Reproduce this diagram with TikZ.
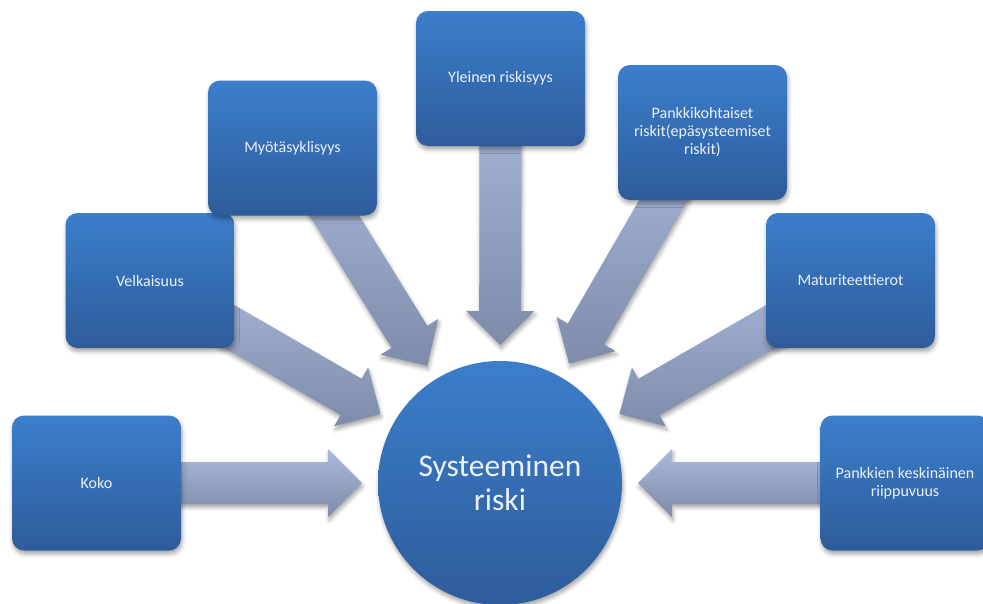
\documentclass[tikz,border=0pt]{standalone}
\usepackage{fontspec}
\setmainfont{Carlito}
\usetikzlibrary{calc,shadows.blur}
\definecolor{boxtop}{RGB}{59,126,203}
\definecolor{boxbot}{RGB}{46,92,155}
\definecolor{arrtop}{RGB}{170,186,219}
\definecolor{arrbot}{RGB}{126,139,170}
\definecolor{txt}{RGB}{236,241,249}
\pgfdeclarelayer{bg}
\pgfsetlayers{bg,main}
\newcommand\sysarrow[1]{%
  \coordinate (T) at ($(c.center)!138pt!(#1.center)$);
  \coordinate (N) at ($(T)!34pt!(#1.center)$);
  \path[arrowshape]
    ($(#1.center)!21pt!90:(T)$) -- ($(N)!21pt!90:(T)$) -- ($(N)!34pt!90:(T)$)
    -- (T) -- ($(N)!34pt!-90:(T)$) -- ($(N)!21pt!-90:(T)$)
    -- ($(#1.center)!21pt!-90:(T)$) -- cycle;
}
\tikzset{
  softshadow/.style={blur shadow={shadow xshift=1pt, shadow yshift=-3.5pt,
      shadow blur radius=4pt, shadow opacity=35}},
  box/.style={rounded corners=12pt, minimum width=169pt, minimum height=135pt,
      top color=boxtop, bottom color=boxbot, text=txt, align=center,
      inner sep=0pt, softshadow, font=\fontsize{16}{18}\selectfont},
  circ/.style={circle, minimum size=244pt, inner sep=0pt,
      top color=boxtop, bottom color=boxbot, text=txt, align=center,
      softshadow, font=\fontsize{31.5}{34}\selectfont},
  arrowshape/.style={top color=arrtop, bottom color=arrbot, softshadow},
}
\begin{document}
\begin{tikzpicture}[x=1pt,y=-1pt]
\useasboundingbox (0,0) rectangle (983,603);
\node[box] (koko) at (96.5,483) {Koko};
\node[box] (velk) at (150,280.5) {Velkaisuus};
\node[box] (myo) at (292.5,148) {Myötäsyklisyys};
\node[box] (yle) at (500.5,78.5) {Yleinen riskisyys};
\node[box] (pank) at (702.5,132.5) {Pankkikohtaiset\\riskit(epäsysteemiset\\riskit)};
\node[box] (mat) at (850.5,280.5) {Maturiteettierot};
\node[box] (kesk) at (905,483) {Pankkien keskinäinen\\riippuvuus};
\node[circ] (c) at (500,483) {Systeeminen\\riski};
\begin{pgfonlayer}{bg}
\sysarrow{koko}
\sysarrow{velk}
\sysarrow{myo}
\sysarrow{yle}
\sysarrow{pank}
\sysarrow{mat}
\sysarrow{kesk}
\end{pgfonlayer}
\end{tikzpicture}
\end{document}
